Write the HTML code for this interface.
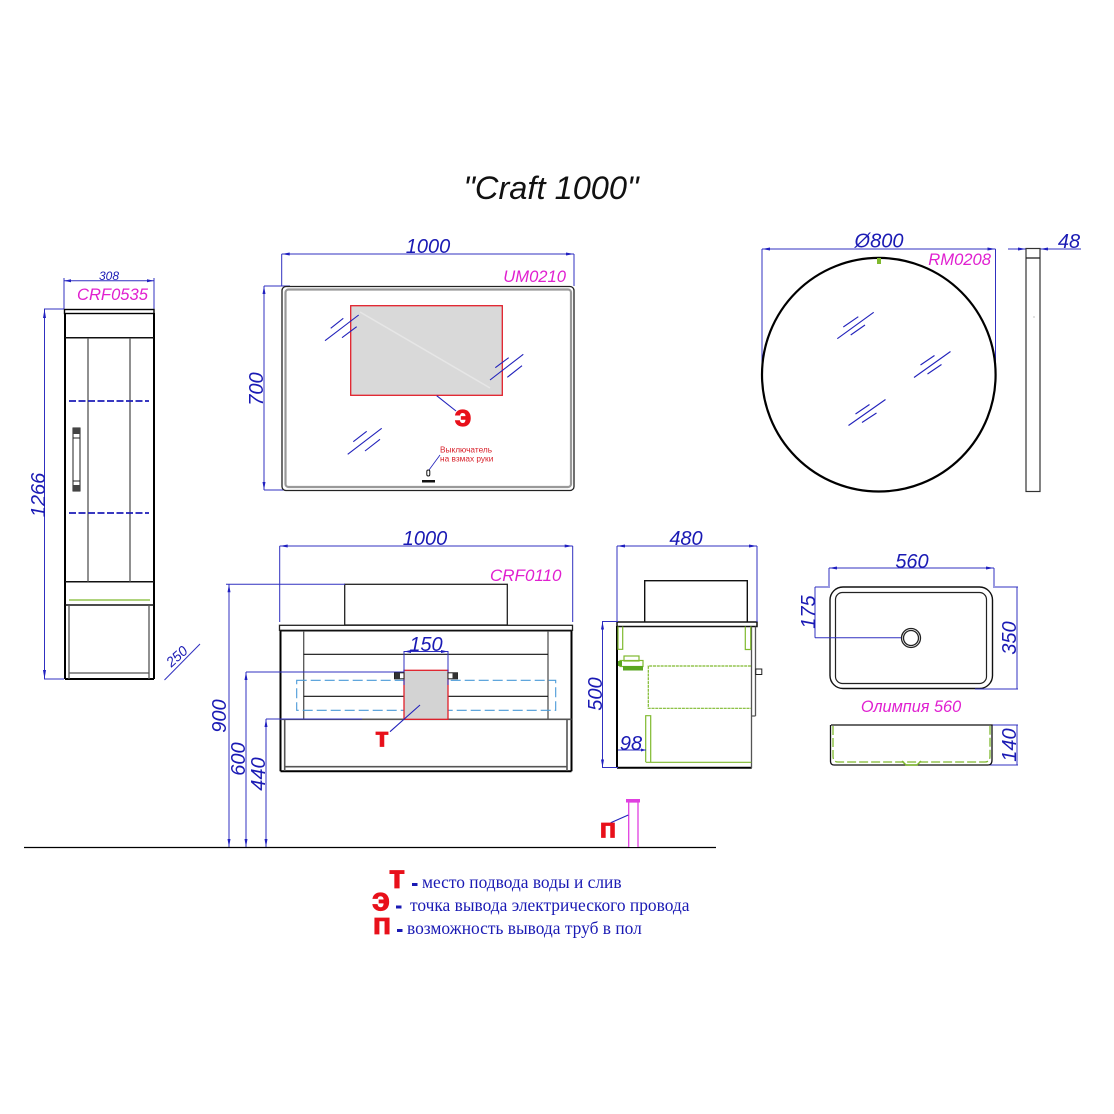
<!DOCTYPE html>
<html><head><meta charset="utf-8"><style>
html,body{margin:0;padding:0;background:#fff}
svg{display:block}
text{font-family:"Liberation Sans",sans-serif}
.d{fill:#1a1ab4;font-style:italic;font-size:20px;text-anchor:middle}
.m{fill:#e020d0;font-style:italic;font-size:16.6px;text-anchor:end}
.dl{stroke:#3030c0;stroke-width:1;fill:none}
.k{stroke:#111;stroke-width:1.5;fill:none}
.kk{stroke:#000;stroke-width:2;fill:none}
.g{stroke:#555;stroke-width:1.3;fill:none}
.gl{stroke:#2222bb;stroke-width:1.1;fill:none}
.gr{stroke:#7fb92e;stroke-width:1.2;fill:none}
.a{fill:#2020c0}
.r{fill:#e8101a;stroke:#e8101a;stroke-width:.7;font-weight:bold;text-anchor:middle}
.l{fill:#1a1ab4;font-family:"Liberation Serif",serif;font-size:17.4px}
</style></head><body>
<svg width="1114" height="1114" viewBox="0 0 1114 1114" xmlns="http://www.w3.org/2000/svg">
<rect width="1114" height="1114" fill="#fff"/>
<text x="551" y="199" font-size="32.600" font-style="italic" text-anchor="middle" fill="#111">"Craft 1000"</text>

<!-- column cabinet -->
<path class="dl" d="M64 309V278M154 309V278M64 280.7H154M44 309H64M44.500 309V679M44 679H64"/>
<path class="a" d="M64 280.700l7-1.500v3zM154 280.700l-7-1.500v3zM44.500 309l-1.500 9h3zM44.500 679l-1.500-9h3z"/>
<text x="109" y="280" font-size="12" font-style="italic" text-anchor="middle" fill="#1a1ab4">308</text>
<text class="m" x="148" y="300">CRF0535</text>
<text class="d" transform="translate(45,495) rotate(-90)">1266</text>
<rect x="64.500" y="309.500" width="89.500" height="4" fill="#fff" stroke="#000" stroke-width="1.400"/>
<path class="kk" d="M65 313V679M154 313V679M65 679H154"/>
<path class="k" d="M65 337.700H154M65 581.700H154M65 605H154"/>
<path class="g" d="M88 338V581.700M130 338V581.700"/>
<path stroke="#1c1cb8" stroke-width="1.800" stroke-dasharray="7 2.500" fill="none" d="M69 401H149M69 513H149"/>
<path class="gr" d="M69 600H150"/>
<path class="g" d="M69 605V679M149 605V679M69 673H149"/>
<rect x="73" y="428" width="7" height="63" fill="#fff" stroke="#222" stroke-width="1"/>
<rect x="73" y="428" width="7" height="6" fill="#444"/><rect x="73" y="485" width="7" height="6" fill="#444"/>
<path fill="none" stroke="#222" d="M73 438H80M73 481H80"/>
<path class="dl" d="M164.500 680L200 644"/>
<text transform="translate(180,660) rotate(-42)" font-size="14" font-style="italic" text-anchor="middle" fill="#1a1ab4">250</text>

<!-- LED mirror -->
<path class="dl" d="M281.700 286V254M574 286V254M281.700 254H574M264 286H290M264 490H290M264 286V490"/>
<path class="a" d="M281.700 254l8-1.500v3zM574 254l-8-1.500v3zM264 286l-1.500 8h3zM264 490l-1.500-8h3z"/>
<text class="d" x="428" y="253">1000</text>
<text class="d" transform="translate(263,389) rotate(-90)">700</text>
<text class="m" x="566" y="282">UM0210</text>
<rect x="282" y="286.500" width="292" height="204" rx="4" fill="#fff" stroke="#222" stroke-width="1.300"/>
<rect x="285.500" y="289.500" width="285.500" height="197.500" rx="3" fill="none" stroke="#999" stroke-width="2.200"/>
<rect x="350.700" y="305.700" width="151.600" height="89.600" fill="#d9d9d9" stroke="#e0202a" stroke-width="1.300"/>
<path d="M360 312L490 388" stroke="#e6e6e6" stroke-width="1.500"/>
<path class="gl" d="M325 340.700L358.700 315M330.700 328.300L343.300 318.300M342 337.700L356.700 326.700"/>
<path class="gl" d="M490 380L523.300 354.300M495.300 367.700L508.700 357.700M507.300 377.300L522 365.700"/>
<path class="gl" d="M347.700 454.300L381.700 428.300M353.300 441.700L366.700 431.300M365 451L380 439.300"/>
<path class="gl" d="M436.700 395.700L456 411"/>
<text class="r" x="463" y="426" font-size="31">э</text>
<path stroke="#2222bb" stroke-width=".8" d="M429 470L440 455" fill="none"/>
<text x="440" y="452.500" font-size="8.300" fill="#d8202a">Выключатель</text>
<text x="440" y="461.500" font-size="8.300" fill="#d8202a">на взмах руки</text>
<rect x="426.800" y="470" width="3" height="6" rx="1.500" fill="#fff" stroke="#111" stroke-width="1"/>
<rect x="422" y="480" width="13" height="2.500" fill="#111"/>

<!-- round mirror -->
<path class="dl" d="M762 249H995.500M762 249V370M995.500 249V370"/>
<path class="a" d="M762 249l8-1.500v3zM995.500 249l-8-1.500v3z"/>
<text class="d" x="879" y="247.500">Ø800</text>
<text class="m" x="991" y="265">RM0208</text>
<circle cx="878.800" cy="374.700" r="116.800" fill="none" stroke="#000" stroke-width="2.200"/>
<rect x="877" y="258" width="4" height="6" fill="#7fb92e"/>
<path class="gl" d="M837.300 338.700L873.700 312.300M843.300 327L858.300 316.700M850.700 335L865 325"/>
<path class="gl" d="M914 377.500L950.500 351.500M920.500 365L934.500 355.500M927.500 374L941.500 364.500"/>
<path class="gl" d="M848.500 425.500L885.500 399.500M855.500 414L869.500 404.500M862 422.500L876.500 413"/>
<!-- side mirror -->
<path class="dl" d="M1026 248V258M1040 248V258M1040 249H1081"/>
<path class="dl" d="M1008 249H1026"/>
<path class="a" d="M1026 249l-8-1.500v3zM1040 249l8-1.500v3z"/>
<text class="d" x="1069" y="248">48</text>
<rect x="1026" y="248.500" width="14" height="243" fill="#fff" stroke="#333" stroke-width="1.200"/>
<path d="M1026 258H1040" stroke="#222" stroke-width="1.300"/>
<path d="M1034 316.500v1" stroke="#888"/>

<!-- front vanity -->
<text class="d" x="425" y="545">1000</text>
<text class="m" x="561.500" y="581" style="font-size:17px">CRF0110</text>
<text class="d" transform="translate(226,716) rotate(-90)">900</text>
<text class="d" transform="translate(245,759) rotate(-90)">600</text>
<text class="d" transform="translate(265,774) rotate(-90)">440</text>
<rect x="344.700" y="584.300" width="162.600" height="40.700" fill="#fff" stroke="#222" stroke-width="1.300"/>
<rect x="279.500" y="625.300" width="293" height="5" fill="#fff" stroke="#222" stroke-width="1.300"/>
<path class="kk" d="M280.500 630.700V771.300M571.500 630.700V771.300M280.500 771.300H571.500"/>
<path class="k" d="M280.500 630.700H571.500"/>
<path class="g" d="M303.700 631V719.300M548 631V719.300"/>
<path class="k" style="stroke-width:1.100" d="M303.700 654.300H548M303.700 696.300H548"/>
<path class="g" style="stroke-width:1.600" d="M280.500 719.300H571.500M284.700 719.300V771M567 719.300V771M284.700 766.700H567"/>
<rect x="296.700" y="680.300" width="259" height="30" fill="none" stroke="#4a9ad8" stroke-width="1.100" stroke-dasharray="10 4"/>
<rect x="404" y="670.300" width="44" height="49" fill="#d3d3d3" stroke="#e0202a" stroke-width="1.300"/>
<path class="dl" d="M279.700 546H572.700M279.700 546V622M572.700 546V622M226 584.300H345M246 672H404M266 719H362"/>
<path class="dl" d="M229 584.300V847M246 672V847M266 719V847"/>
<path class="a" d="M279.700 546l8-1.500v3zM572.700 546l-8-1.500v3zM229 584.300l-1.500 8h3zM246 672l-1.500 8h3zM266 719l-1.500 8h3zM229 847l-1.500-8h3zM246 847l-1.500-8h3zM266 847l-1.500-8h3z"/>
<path class="dl" d="M404 651V685M448 651V685M404 651.500H448"/>
<path class="a" d="M404 651.500l7-1.500v3zM448 651.500l-7-1.500v3z"/>
<text class="d" x="426" y="651">150</text>
<rect x="394.500" y="672.800" width="9.500" height="6" fill="#fff" stroke="#222" stroke-width="1"/><rect x="395" y="673" width="5" height="6" fill="#333"/>
<rect x="448" y="672.800" width="9.500" height="6" fill="#fff" stroke="#222" stroke-width="1"/><rect x="452.500" y="673" width="5" height="6" fill="#333"/>
<path class="gl" d="M420 705L390 731.700"/>
<text class="r" x="382" y="746.700" font-size="28">т</text>

<!-- side view -->
<text class="d" x="686" y="545">480</text>
<text class="d" transform="translate(602,694) rotate(-90)">500</text>
<rect x="644.700" y="580.700" width="102.600" height="41.500" fill="#fff" stroke="#111" stroke-width="1.400"/>
<rect x="617" y="622" width="140" height="4.500" fill="#fff" stroke="#111" stroke-width="1.500"/>
<path class="kk" d="M617 626V768M617 767.700H751.700"/>
<path class="g" d="M751.500 626.500V768M755.500 626.500V716M751.500 716H755.500"/>
<rect x="755.800" y="669" width="6" height="5.500" fill="#fff" stroke="#222"/>
<g fill="none" stroke="#7fb92e" stroke-width="1.200">
<path d="M618 626.500V649.300H622.700V626.500"/>
<path d="M745.300 626.500V649.500H750.700V626.500"/>
<path stroke-dasharray="3 .8" d="M751 666H648.300V708.300H751"/>
<path d="M645.700 762V715.700H650.700V762"/>
<path d="M645.700 762.300H751.300"/>
<rect x="624" y="656" width="15" height="5"/>
<rect x="620" y="660.500" width="23" height="6"/>
</g>
<rect x="623" y="666" width="20" height="4.500" fill="#5aa620"/>
<rect x="618" y="661" width="4" height="5" fill="#5aa620"/>
<path class="dl" d="M617 546H757M617 546V622M757 546V622M602 621.500H618M602 767.500H618M602.500 621.500V767.500M618 750H646"/>
<path class="a" d="M617 546l8-1.500v3zM757 546l-8-1.500v3zM602.500 621.500l-1.500 8h3zM602.500 767.500l-1.500-8h3zM646 750l-5-1.500v3z"/>
<text class="d" x="631" y="750">98</text>

<!-- basin -->
<rect x="830" y="587" width="162.500" height="101.500" rx="13" fill="#fff" stroke="#111" stroke-width="1.400"/>
<rect x="835.500" y="592.500" width="151" height="91" rx="7" fill="none" stroke="#222" stroke-width="1.200"/>
<circle cx="911" cy="638" r="9.500" fill="none" stroke="#222" stroke-width="1.300"/>
<circle cx="911" cy="638" r="7.500" fill="none" stroke="#222" stroke-width="1.300"/>
<path class="dl" d="M829 568H994M829 568V586M994 568V586M815 587H830M815 637.700H901M815 587V637.700M993 587H1018M975 689H1018M1017 587V689M990 725H1018M985 765H1018M1017 725V765"/>
<path class="a" d="M829 568l8-1.500v3zM994 568l-8-1.500v3z"/>
<text class="d" x="912" y="568">560</text>
<text class="d" transform="translate(815,612) rotate(-90)">175</text>
<text class="d" transform="translate(1016,638) rotate(-90)">350</text>
<text class="d" transform="translate(1016,745) rotate(-90)">140</text>
<text x="911" y="712" font-size="16.300" font-style="italic" text-anchor="middle" fill="#e020d0">Олимпия 560</text>
<path d="M831 725H992V760Q992 765 988 765H834Q830.500 765 830.500 761V725" fill="#fff" stroke="#111" stroke-width="1.300"/>
<path d="M833 726V756Q833 762 838 762H985Q990 762 990 756V726" fill="none" stroke="#7fb92e" stroke-width="1.300" stroke-dasharray="9 3"/>
<path d="M902 761L906 765H917L921 761" fill="none" stroke="#7fb92e" stroke-width="1.500"/>

<!-- floor -->
<path d="M24 847.500H716" stroke="#000" stroke-width="1.300"/>
<path d="M628.700 847V802H638V847" fill="#fff" stroke="#e040e0" stroke-width="1.300"/>
<rect x="626" y="799" width="14" height="3.500" fill="#e040e0"/>
<path class="gl" d="M610.700 822.700L628.300 815"/>
<text class="r" x="608" y="837.700" font-size="28">п</text>

<!-- legend -->
<text class="r" x="397" y="888" font-size="33">т</text>
<text class="r" x="381" y="910.500" font-size="33">э</text>
<text class="r" x="382" y="934" font-size="31">п</text>
<rect x="412" y="883" width="5.500" height="3" fill="#1a1ab4"/>
<rect x="396" y="905.500" width="5.500" height="3" fill="#1a1ab4"/>
<rect x="397" y="929" width="5.500" height="3" fill="#1a1ab4"/>
<text class="l" x="422" y="888">место подвода воды и слив</text>
<text class="l" x="410" y="911">точка вывода электрического провода</text>
<text class="l" x="407" y="934">возможность вывода труб в пол</text>
</svg>
</body></html>
